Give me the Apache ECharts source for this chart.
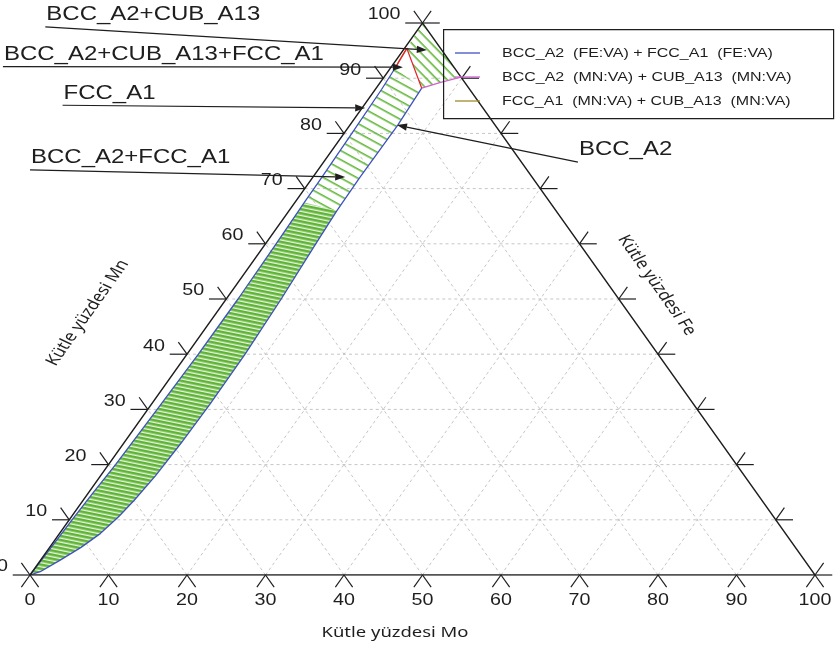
<!DOCTYPE html>
<html>
<head>
<meta charset="utf-8">
<script src="https://cdn.jsdelivr.net/npm/echarts@6/dist/echarts.min.js"></script>
<style>
  html, body { margin: 0; padding: 0; background: #fff; }
  #chart { width: 838px; height: 647px; }
</style>
</head>
<body>
<div id="chart"></div>
<script>
// Fe–Mn–Mo isothermal section, mass %. Every composition is [Mo, Mn]; Fe is the balance.

const tickValues = [0, 10, 20, 30, 40, 50, 60, 70, 80, 90, 100];
const gridValues = [10, 20, 30, 40, 50, 60, 70, 80, 90];

// BCC_A2 + FCC_A1 two-phase field
const fccBoundary = [[0, 0], [0.1, 2], [0.2, 5], [0.35, 10], [0.6, 15], [0.9, 20], [1.2, 30], [1.45, 40],
  [1.5, 50], [1.35, 60], [1.2, 67.5], [1.15, 72], [1.0, 80], [0.8, 88], [0.6, 91.8]];
const bccBoundary = [[0, 0], [1.0, 0.6], [2.5, 2.7], [4.0, 5.0], [5.2, 7.5], [6.0, 10.5], [6.5, 13.5],
  [7.0, 18], [7.3, 24], [7.45, 31], [7.4, 40], [7.0, 50], [6.4, 60], [6.1, 66], [6.0, 72],
  [6.1, 81.5], [5.8, 88.2]];
// tie line where the computed tie-line density changes
const denseTie = [[1.2, 67.5], [6.1, 66]];

// three-phase triangle BCC_A2 + CUB_A13 + FCC_A1
const cubCorner = [0.3, 95.4];
const fccCorner = [0.6, 91.8];
const bccCorner = [5.8, 88.2];

// BCC_A2 + CUB_A13 field
const bccCubBoundary = [[5.8, 88.2], [7.6, 89.2], [9.8, 90.2]];
const cubBoundary = [[0.3, 95.4], [0.15, 97.5], [0, 100]];
// FCC_A1 + CUB_A13 field
const fccCubBoundary = [[0.6, 91.8], [0.45, 93.2], [0.3, 95.4]];

const legendNames = ['BCC_A2  (FE:VA) + FCC_A1  (FE:VA)', 'BCC_A2  (MN:VA) + CUB_A13  (MN:VA)', 'FCC_A1  (MN:VA) + CUB_A13  (MN:VA)'];
const legendColors = ['#3f51c0', '#cc66cc', '#a08a2a'];

const annotationText = ['BCC_A2+CUB_A13', 'BCC_A2+CUB_A13+FCC_A1', 'FCC_A1', 'BCC_A2+FCC_A1', 'BCC_A2'];
const annotationFrom = [[-47.7, 99.3], [-49.5, 92.1], [-38.4, 85.1], [-36.7, 73.4], [32.4, 74.8]];
const annotationTo = [[3.0, 95.1], [1.5, 92.0], [0.4, 84.6], [4.1, 72.1], [6.0, 81.5]];

const axisTitles = ['Kütle yüzdesi Mo', 'Kütle yüzdesi Mn', 'Kütle yüzdesi Fe'];
const axisTitleAt = [[51.75, -10.5], [-16.4, 47.5], [53.6, 52.5]];

// ---- drawing helpers ----
const STRETCH = 1.23;          // the plot is drawn with a wide aspect, text follows it
const INK = '#1e1e1e';
const LABEL_FONT = '"Liberation Sans", Arial, sans-serif';
const TICK = 2.2;              // tick length in composition units

const T = p => [p[0] + p[1] / 2, p[1]];   // [Mo, Mn] -> plane coordinates

function hatch(spacing, width, color, bg) {
  const c = document.createElement('canvas');
  c.width = 32; c.height = spacing;
  const g = c.getContext('2d');
  if (bg) { g.fillStyle = bg; g.fillRect(0, 0, 32, spacing); }
  g.fillStyle = color;
  g.fillRect(0, 0, 32, width);
  return c;
}

const twoPhase = [...fccBoundary, ...bccBoundary.slice().reverse()];
const denseBand = [...fccBoundary.filter(p => p[1] <= denseTie[0][1]),
  ...bccBoundary.filter(p => p[1] <= denseTie[1][1]).reverse()];
const bccCubField = [...cubBoundary, ...bccCubBoundary.slice().reverse(), cubCorner];

function polygonItem(api, pts, fill) {
  return { type: 'polygon', shape: { points: pts.map(p => api.coord(T(p))) }, style: { fill: fill } };
}

function seg(api, a, b, style) {
  const p = api.coord(T(a)), q = api.coord(T(b));
  return { type: 'line', shape: { x1: p[0], y1: p[1], x2: q[0], y2: q[1] }, style: style };
}

function stretchedText(x, y, text, font, align, vAlign, rotation) {
  return {
    type: 'group', x: x, y: y, scaleX: STRETCH,
    children: [{
      type: 'text', rotation: rotation || 0,
      style: { x: 0, y: 0, text: text, font: font, fill: INK, align: align, verticalAlign: vAlign }
    }]
  };
}

function arrow(api, from, to) {
  const a = api.coord(T(from)), b = api.coord(T(to));
  const ang = Math.atan2(b[1] - a[1], b[0] - a[0]);
  const L = 10, W = 3.6;
  const base = [b[0] - L * Math.cos(ang), b[1] - L * Math.sin(ang)];
  return [
    { type: 'line', shape: { x1: a[0], y1: a[1], x2: base[0], y2: base[1] }, style: { stroke: INK, lineWidth: 1.2 } },
    { type: 'polygon', shape: { points: [b,
      [base[0] + W * Math.sin(ang), base[1] - W * Math.cos(ang)],
      [base[0] - W * Math.sin(ang), base[1] + W * Math.cos(ang)]] }, style: { fill: INK } }
  ];
}

const single = (render, z) => ({ type: 'custom', data: [0], silent: true, z: z, clip: false, renderItem: render });

const series = [
  // dashed composition grid
  single((params, api) => {
    const children = [];
    const st = { stroke: '#c6c6c6', lineWidth: 1, lineDash: [3, 3] };
    gridValues.forEach(v => {
      children.push(seg(api, [0, v], [100 - v, v], st));
      children.push(seg(api, [v, 0], [v, 100 - v], st));
      children.push(seg(api, [100 - v, 0], [0, 100 - v], st));
    });
    return { type: 'group', children: children };
  }, 1),
  // tie-line hatching of the two-phase fields
  single((params, api) => ({
    type: 'group', children: [
      polygonItem(api, twoPhase, { image: hatch(8, 1.6, '#62b83a'), repeat: 'repeat', rotation: 0.5 }),
      polygonItem(api, denseBand, { image: hatch(4, 2.6, '#5fb436', '#e9f4e2'), repeat: 'repeat', rotation: 0.2 }),
      polygonItem(api, bccCubField, { image: hatch(7, 1.6, '#62b83a'), repeat: 'repeat', rotation: 0.8 })
    ]
  }), 2),
  { type: 'line', name: legendNames[0], data: fccBoundary.map(T), showSymbol: false, z: 3,
    lineStyle: { color: legendColors[0], width: 1.3 } },
  { type: 'line', name: legendNames[0], data: bccBoundary.map(T), showSymbol: false, z: 3,
    lineStyle: { color: legendColors[0], width: 1.3 } },
  { type: 'line', name: legendNames[1], data: bccCubBoundary.map(T), showSymbol: false, z: 3,
    lineStyle: { color: legendColors[1], width: 1.3 } },
  { type: 'line', name: legendNames[2], data: fccCubBoundary.map(T), showSymbol: false, z: 3,
    lineStyle: { color: legendColors[2], width: 1.3 } },
  { type: 'line', data: [fccCorner, cubCorner, bccCorner].map(T), showSymbol: false, z: 3,
    lineStyle: { color: '#e8202a', width: 1.3 } },
  // triangle frame
  { type: 'line', data: [[0, 0], [100, 0], [0, 100], [0, 0]].map(T), showSymbol: false, z: 4,
    lineStyle: { color: INK, width: 1.3 } },
  // ternary ticks
  single((params, api) => {
    const st = { stroke: INK, lineWidth: 1.2 };
    const children = [];
    tickValues.forEach(v => {
      children.push(seg(api, [v, 0], [v, -TICK], st), seg(api, [v, 0], [v + TICK, -TICK], st));
      children.push(seg(api, [0, v], [-TICK, v], st), seg(api, [0, v], [-TICK, v + TICK], st));
      children.push(seg(api, [v, 100 - v], [v + TICK, 100 - v], st), seg(api, [v, 100 - v], [v, 100 - v + TICK], st));
    });
    return { type: 'group', children: children };
  }, 4),
  // tick labels and axis titles
  single((params, api) => {
    const children = [];
    const f = '16px ' + LABEL_FONT;
    tickValues.forEach(v => {
      const b = api.coord(T([v, 0]));
      children.push(stretchedText(b[0], b[1] + 26, String(v), f, 'center', 'middle'));
      const l = api.coord(T([0, v]));
      children.push(stretchedText(l[0] - 22, l[1] - 8, String(v), f, 'right', 'middle'));
    });
    const tf = '15px "Noto Sans", "Open Sans", sans-serif';
    const rot = [0, Math.PI / 3, -Math.PI / 3];
    axisTitles.forEach((t, i) => {
      const p = api.coord(T(axisTitleAt[i]));
      children.push(stretchedText(p[0], p[1], t, tf, 'center', 'middle', rot[i]));
    });
    return { type: 'group', children: children };
  }, 5),
  // phase-field call-outs
  single((params, api) => {
    const children = [];
    const f = '19.5px ' + LABEL_FONT;
    annotationText.forEach((t, i) => {
      const p = api.coord(T(annotationFrom[i]));
      children.push(stretchedText(p[0] + 1, p[1] - 12, t, f, 'left', 'middle'));
      children.push(...arrow(api, annotationFrom[i], annotationTo[i]));
    });
    return { type: 'group', children: children };
  }, 6)
];

const legendGraphic = [{ type: 'rect', left: 443, top: 29, shape: { width: 390, height: 89 },
  style: { fill: 'rgba(255,255,255,0)', stroke: INK, lineWidth: 1.2 }, z: 10 }];
legendNames.forEach((name, i) => {
  const y = 53 + i * 24;
  legendGraphic.push({ type: 'line', shape: { x1: 455, y1: y, x2: 480, y2: y }, style: { stroke: legendColors[i], lineWidth: 1.3 }, z: 10 });
  legendGraphic.push({ type: 'text', x: 502, y: y, scaleX: STRETCH, z: 10,
    style: { text: name, font: '13px ' + LABEL_FONT, fill: INK, align: 'left', verticalAlign: 'middle' } });
});

const chart = echarts.init(document.getElementById('chart'), null, { renderer: 'canvas' });
chart.setOption({
  animation: false,
  backgroundColor: '#fff',
  grid: { left: 30, top: 23, width: 785, height: 552 },
  xAxis: { type: 'value', min: 0, max: 100, show: false },
  yAxis: { type: 'value', min: 0, max: 100, show: false },
  series: series,
  graphic: legendGraphic
});
</script>
</body>
</html>
